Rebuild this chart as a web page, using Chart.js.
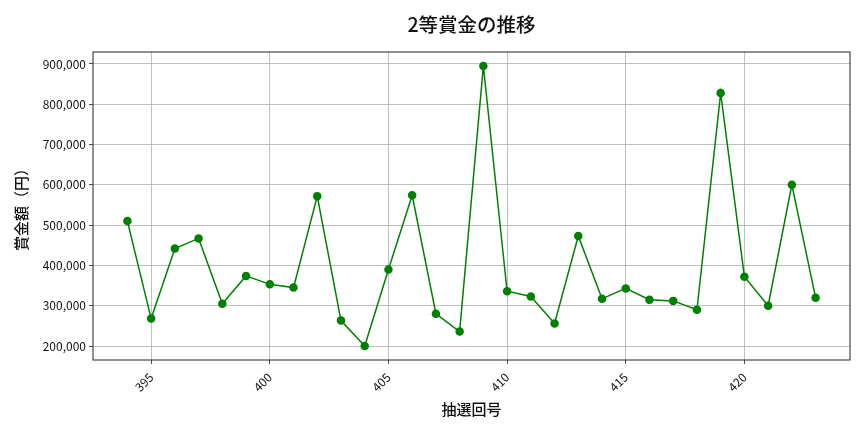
<!DOCTYPE html>
<html><head><meta charset="utf-8">
<script src="https://cdn.jsdelivr.net/npm/chart.js@4"></script>
<style>html,body{margin:0;padding:0;background:#fff}#w{width:864px;height:432px}</style>
</head><body><div id="w"><canvas id="c"></canvas></div>
<script>
const draws = [394,395,396,397,398,399,400,401,402,403,404,405,406,407,408,409,410,411,412,413,414,415,416,417,418,419,420,421,422,423];
const prizes = [510000,268000,442000,467000,305000,374000,353000,345000,572000,263000,200000,390000,574000,280000,236000,895000,336000,323000,256000,473000,317000,343000,315000,312000,290000,828000,372000,300000,600000,320000];
const xTicks = [395,400,405,410,415,420];
const yTicks = [200000,300000,400000,500000,600000,700000,800000,900000];
const titleText = '2等賞金の推移';
const xTitle = '抽選回号';
const yTitle = '賞金額（円）';
const FONT = "'Noto Sans CJK JP', 'Noto Sans', sans-serif";

const frame = {
  id: 'frame',
  afterDraw(chart) {
    const a = chart.chartArea, ctx = chart.ctx;
    ctx.save();
    ctx.strokeStyle = '#222';
    ctx.lineWidth = 1;
    ctx.strokeRect(a.left, a.top, a.right - a.left, a.bottom - a.top);
    ctx.fillStyle = '#111';
    ctx.font = "500 19.5px " + FONT;
    ctx.textAlign = 'center';
    ctx.textBaseline = 'middle';
    ctx.fillText(titleText, (a.left + a.right) / 2, 25);
    ctx.restore();
  }
};

new Chart(document.getElementById('c'), {
  type: 'line',
  data: {
    datasets: [{
      data: draws.map((d, i) => ({x: d, y: prizes[i]})),
      borderColor: '#008000',
      backgroundColor: '#008000',
      borderWidth: 1.5,
      pointRadius: 3.5,
      pointHoverRadius: 3.5,
      tension: 0
    }]
  },
  options: {
    responsive: true,
    maintainAspectRatio: false,
    animation: false,
    layout: {padding: {left: 8, right: 14, top: 52, bottom: 0}},
    plugins: {
      legend: {display: false},
      tooltip: {enabled: false},
      title: {display: false}
    },
    scales: {
      x: {
        type: 'linear', min: 392.55, max: 424.45,
        afterBuildTicks: s => { s.ticks = xTicks.map(v => ({value: v})); },
        afterFit: s => { s.height = 72; },
        grid: {color: '#b0b0b0', lineWidth: 0.8, tickColor: '#222', tickLength: 4},
        border: {display: false},
        ticks: {
          color: '#111', font: {family: FONT, size: 12},
          minRotation: 45, maxRotation: 45, padding: 6,
          callback: v => String(v)
        },
        title: {display: true, text: xTitle, color: '#111', font: {family: FONT, size: 15, weight: '500'}, padding: {top: 4, bottom: 14}}
      },
      y: {
        type: 'linear', min: 165250, max: 929750,
        afterBuildTicks: s => { s.ticks = yTicks.map(v => ({value: v})); },
        afterFit: s => { s.width = 85; },
        grid: {color: '#b0b0b0', lineWidth: 0.8, tickColor: '#222', tickLength: 4},
        border: {display: false},
        ticks: {
          color: '#111', font: {family: FONT, size: 12}, padding: 3,
          callback: v => v.toLocaleString('en-US')
        },
        title: {display: true, text: yTitle, color: '#111', font: {family: FONT, size: 15, weight: '500'}, padding: {bottom: 6}}
      }
    }
  },
  plugins: [frame]
});
</script>
</body></html>
